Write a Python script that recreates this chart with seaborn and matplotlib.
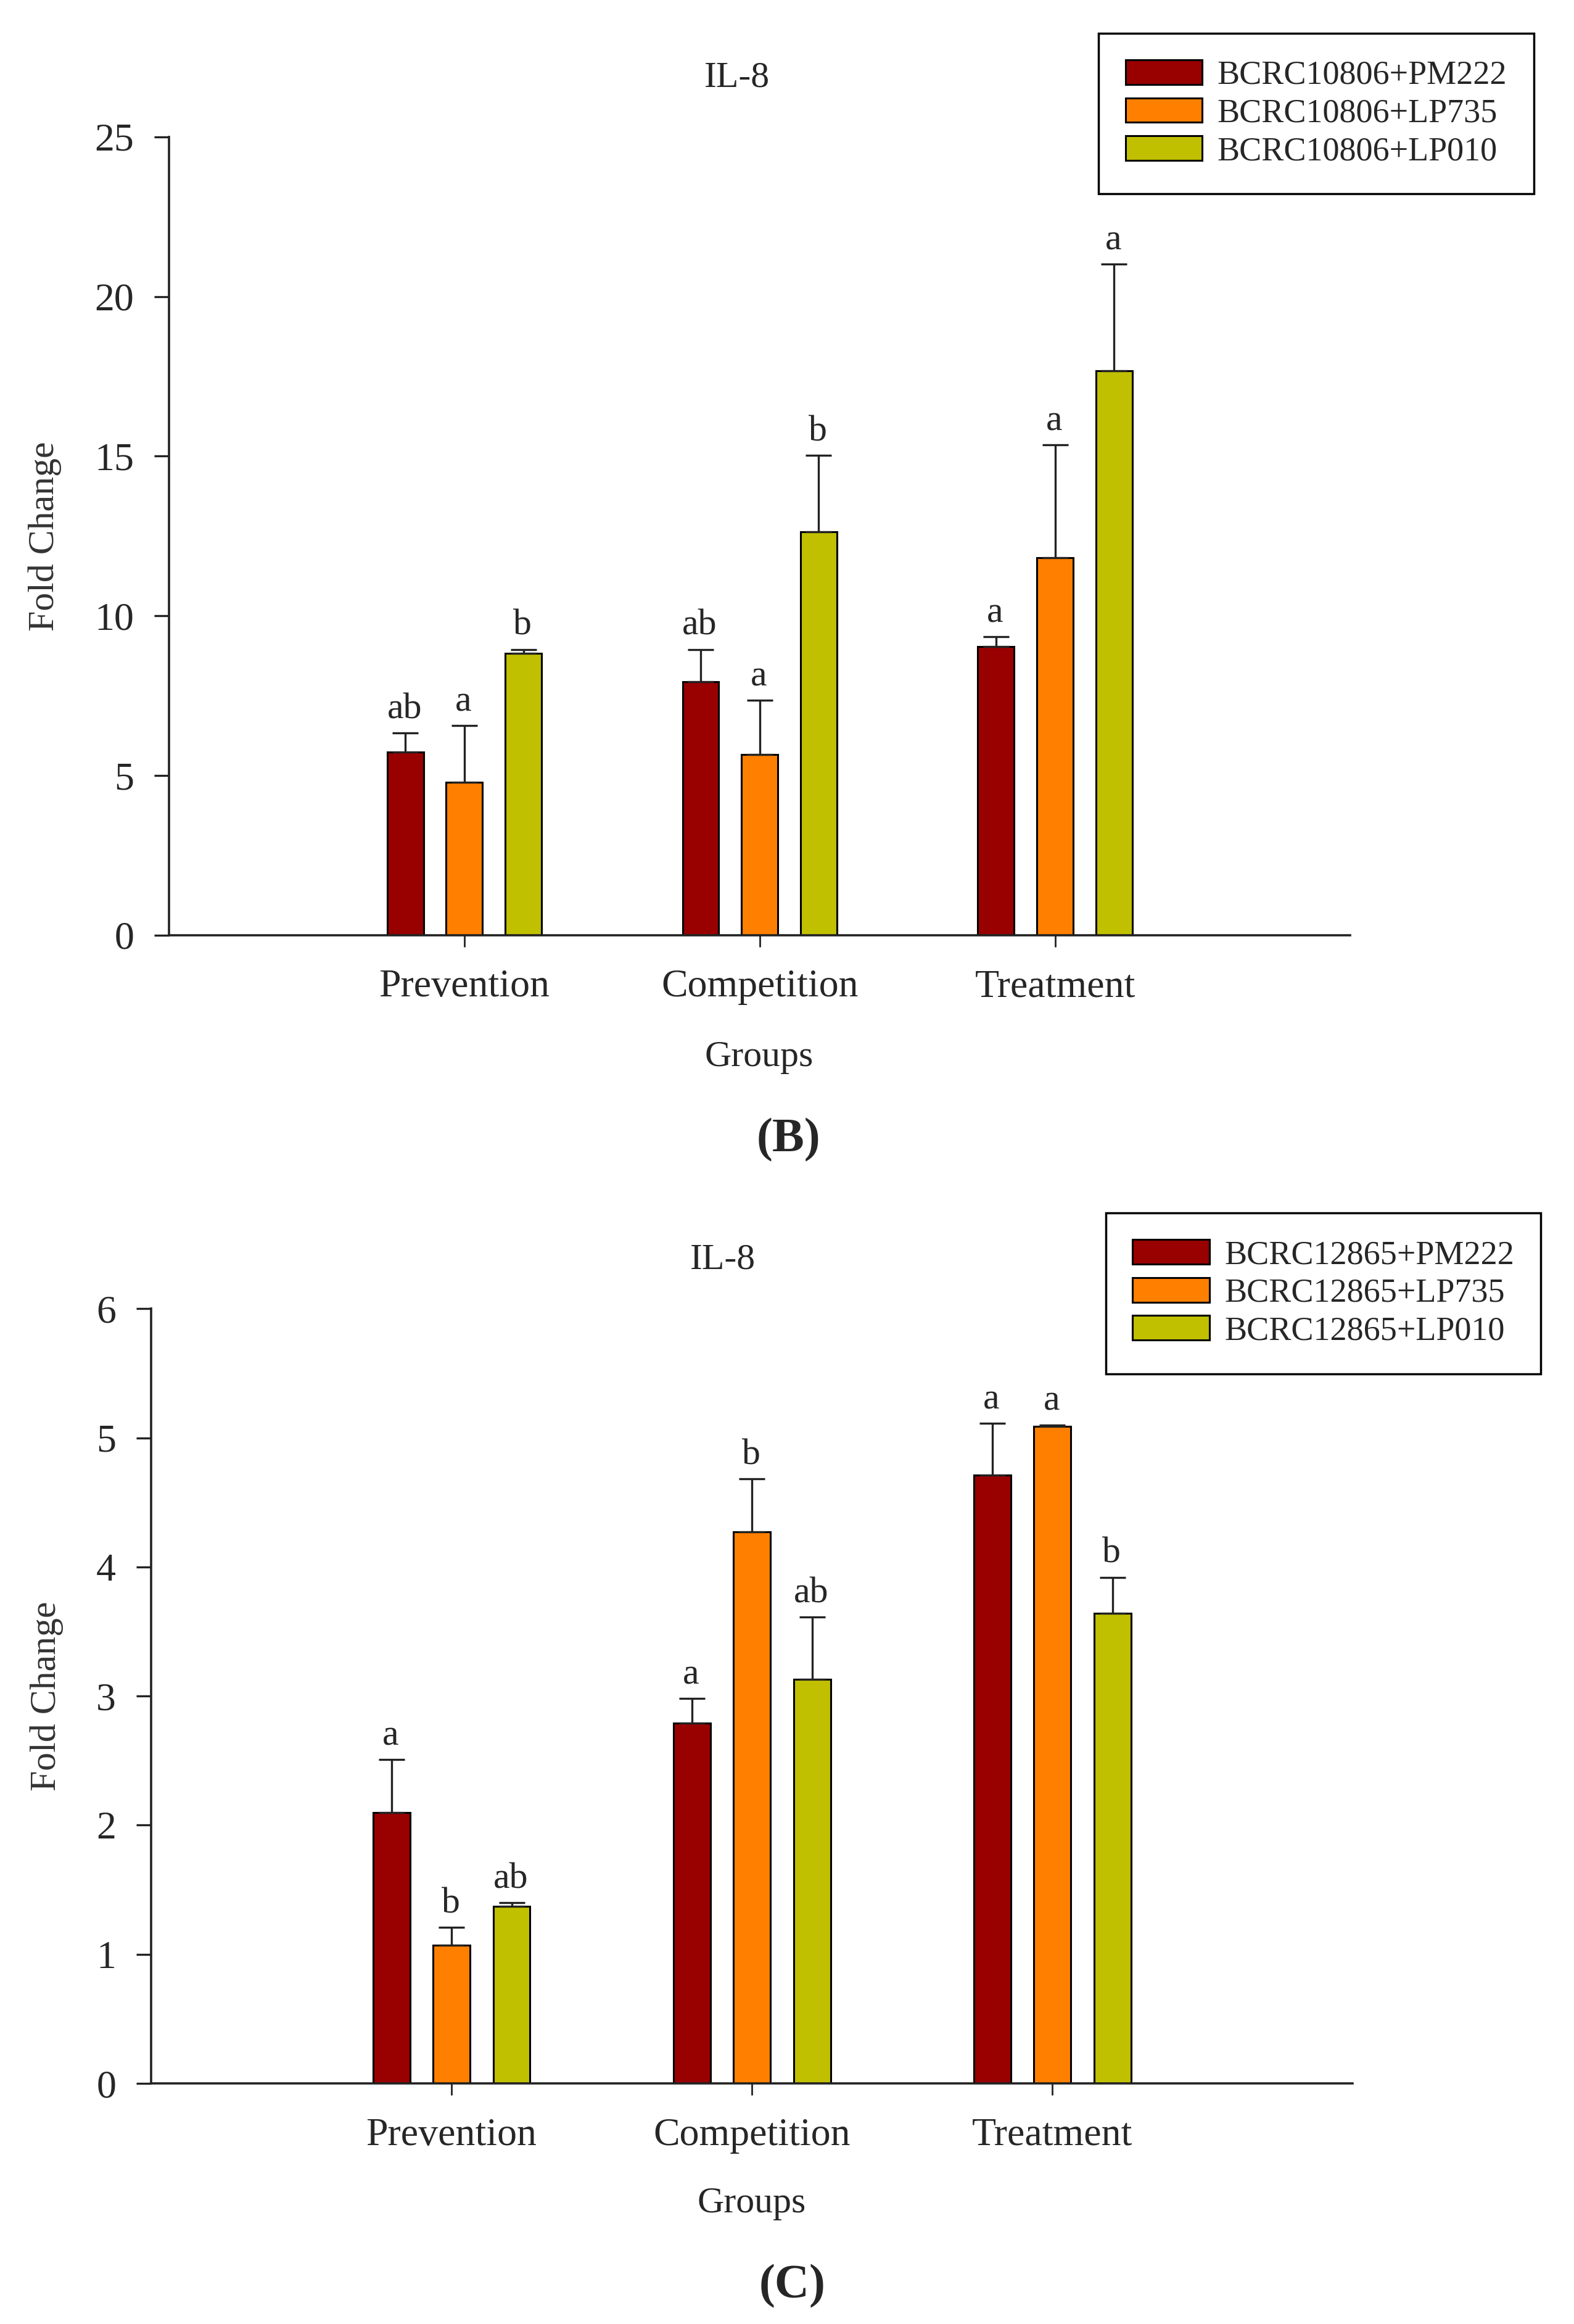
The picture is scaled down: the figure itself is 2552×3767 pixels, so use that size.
import pandas as pd
import seaborn as sns
import matplotlib.pyplot as plt

# Groups on the x axis
groups = ['Prevention', 'Competition', 'Treatment']

# Panel B strains (BCRC10806)
strains_b = ['BCRC10806+PM222', 'BCRC10806+LP735', 'BCRC10806+LP010']
b_pm222 = [5.74, 7.94, 9.04]
b_lp735 = [4.78, 5.65, 11.83]
b_lp010 = [8.83, 12.63, 17.67]
b_pm222_err = [0.59, 1.01, 0.31]
b_lp735_err = [1.78, 1.71, 3.52]
b_lp010_err = [0.12, 2.39, 3.35]
b_pm222_sig = ['ab', 'ab', 'a']
b_lp735_sig = ['a', 'a', 'a']
b_lp010_sig = ['b', 'b', 'a']

# Panel C strains (BCRC12865)
strains_c = ['BCRC12865+PM222', 'BCRC12865+LP735', 'BCRC12865+LP010']
c_pm222 = [2.10, 2.79, 4.71]
c_lp735 = [1.07, 4.27, 5.09]
c_lp010 = [1.37, 3.13, 3.64]
c_pm222_err = [0.41, 0.19, 0.40]
c_lp735_err = [0.14, 0.41, 0.01]
c_lp010_err = [0.03, 0.48, 0.28]
c_pm222_sig = ['a', 'a', 'a']
c_lp735_sig = ['b', 'b', 'a']
c_lp010_sig = ['ab', 'ab', 'b']

bar_colors = ['#990000', '#FF8000', '#C0C000']

sns.set_style('ticks')
plt.rcParams['font.family'] = ['Liberation Serif', 'DejaVu Serif']


def long_table(strains, values):
    rows = []
    for strain, vals in zip(strains, values):
        for g, v in zip(groups, vals):
            rows.append({'Group': g, 'Strain': strain, 'Fold': v})
    return pd.DataFrame(rows)


def draw_panel(ax, strains, values, errors, letters, ymax, yticks,
               legend_anchor, ylabel_x, title_xy, groups_y):
    df = long_table(strains, values)
    sns.barplot(data=df, x='Group', y='Fold', hue='Strain', order=groups,
                hue_order=strains, palette=bar_colors, saturation=1,
                width=0.6, gap=0.385, edgecolor='black', linewidth=2.2,
                errorbar=None, ax=ax)

    # one-sided error bars and significance letters
    for cont, errs, sigs in zip(ax.containers, errors, letters):
        for bar, err, sig in zip(cont, errs, sigs):
            x = bar.get_x() + bar.get_width() / 2
            y = bar.get_height()
            ax.errorbar(x, y, yerr=[[0], [err]], fmt='none', ecolor='#222222',
                        elinewidth=2.4, capsize=15, capthick=2.4)
            ax.annotate(sig, (x, y + err), xytext=(-1, 17), textcoords='offset points',
                        ha='center', va='baseline', fontsize=43)

    ax.set_xlim(-1, 3)
    ax.set_ylim(0, ymax)
    ax.set_yticks(yticks)
    sns.despine(ax=ax)
    for s in ['left', 'bottom']:
        ax.spines[s].set_linewidth(2.6)
        ax.spines[s].set_color('#222222')
    ax.tick_params(axis='y', length=17, width=2.4, pad=24, labelsize=46, color='#222222')
    ax.tick_params(axis='x', length=14, width=2.0, pad=26, labelsize=46, color='#222222')

    ax.set_xlabel('Groups', fontsize=43)
    ax.xaxis.label.set_va('center')
    ax.xaxis.set_label_coords(0.4995, groups_y)
    ax.set_ylabel('Fold Change', fontsize=43, color='#333333')
    ax.yaxis.label.set_va('center')
    ax.yaxis.set_label_coords(ylabel_x, 0.5)

    ax.text(title_xy[0], title_xy[1], 'IL-8', transform=ax.transAxes,
            ha='center', va='center', fontsize=43)

    leg = ax.legend(title=None, loc='upper left', bbox_to_anchor=legend_anchor,
                    bbox_transform=ax.figure.transFigure, frameon=True, fancybox=False,
                    edgecolor='black', framealpha=1, fontsize=39, handlelength=2.3,
                    handleheight=0.75, handletextpad=0.45, labelspacing=0.2,
                    borderpad=0.8, borderaxespad=0)
    leg.get_frame().set_linewidth(2.5)


fig = plt.figure(figsize=(25.52, 37.67), dpi=100)
ax_b = fig.add_axes([0.1074, 0.5976, 0.7505, 0.3435])
ax_c = fig.add_axes([0.0960, 0.1035, 0.7635, 0.3334])

draw_panel(ax_b, strains_b, [b_pm222, b_lp735, b_lp010],
           [b_pm222_err, b_lp735_err, b_lp010_err],
           [b_pm222_sig, b_lp735_sig, b_lp010_sig],
           25, [0, 5, 10, 15, 20, 25], (0.698, 0.9857), -0.105, (0.481, 1.074), -0.153)
draw_panel(ax_c, strains_c, [c_pm222, c_lp735, c_lp010],
           [c_pm222_err, c_lp735_err, c_lp010_err],
           [c_pm222_sig, c_lp735_sig, c_lp010_sig],
           6, [0, 1, 2, 3, 4, 5, 6], (0.7025, 0.4781), -0.087, (0.4755, 1.063), -0.155)

fig.text(0.5008, 0.5094, '(B)', ha='center', va='center', fontsize=56, fontweight='bold')
fig.text(0.5035, 0.0162, '(C)', ha='center', va='center', fontsize=56, fontweight='bold')

fig.savefig('out.png', dpi=100, facecolor='white')
